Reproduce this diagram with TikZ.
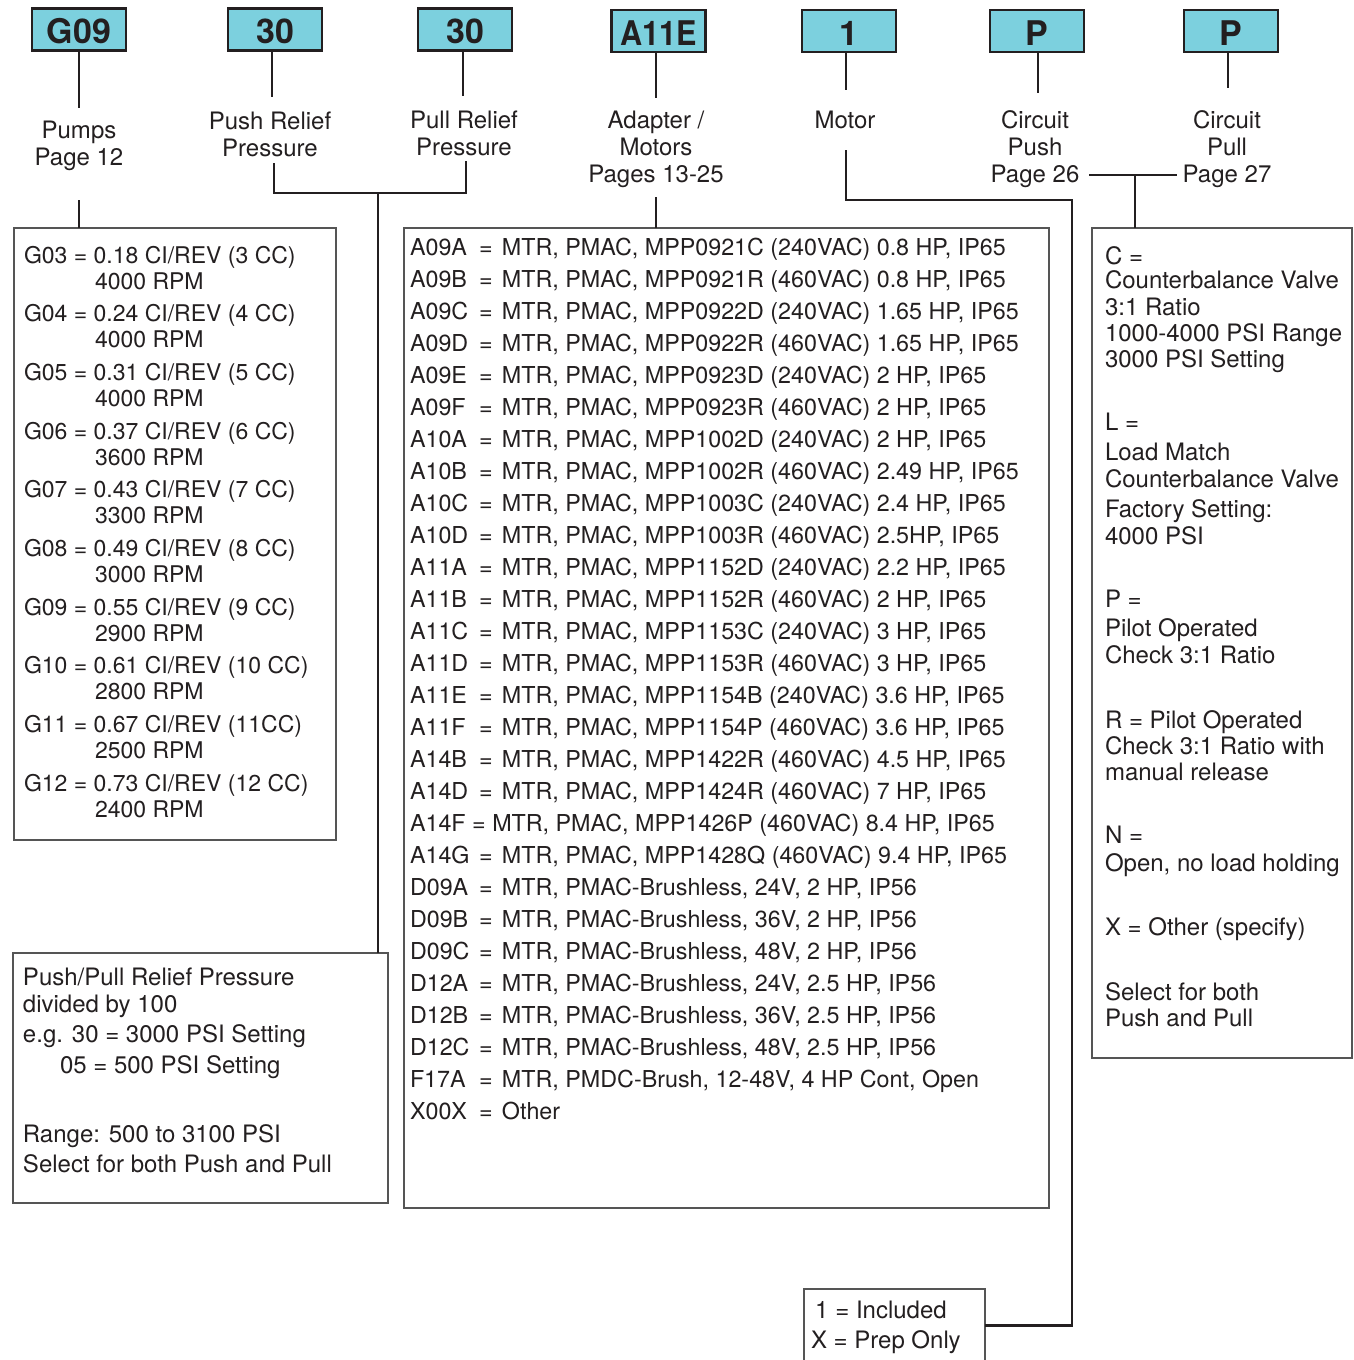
\documentclass[tikz,border=0pt]{standalone}
\usepackage{fontspec}
\setmainfont{TeX Gyre Heros}
\usepackage{graphicx}
\definecolor{ink}{HTML}{231F20}
\definecolor{cyanbox}{RGB}{124,208,222}
\definecolor{frame}{HTML}{555555}
\newcommand{\mystrut}{\rule{0pt}{20pt}}
\newcommand{\mrow}[2]{\makebox[60pt][l]{#1}\makebox[32pt]{=}#2}
\begin{document}
\begin{tikzpicture}[x=1pt,y=-1pt,
  every node/.style={inner sep=0pt, outer sep=0pt, text=ink},
  codebox/.style={draw=ink, line width=2.6pt, fill=cyanbox, minimum width=94pt, minimum height=42pt, text height=28.5pt, text depth=0pt, font=\fontsize{34}{34}\selectfont\bfseries},
  bigbox/.style={draw=frame, line width=1.4pt},
  conn/.style={draw=ink, line width=2.6pt},
  toplabel/.style={anchor=north, align=center, font=\fontsize{24}{27}\selectfont},
  boxtext/.style={anchor=north west, align=left}
]
\useasboundingbox (0,0) rectangle (1354,1360);

% code boxes
\node[codebox] (bG)  at (79,29.5) {G09};
\node[codebox] (bPu) at (275,29.5) {30};
\node[codebox] (bPl) at (465,29.5) {30};
\node[codebox] (bA)  at (658.5,31) {\scalebox{0.9}[1]{A11E}};
\node[codebox] (bM)  at (849,31) {1};
\node[codebox] (bCP) at (1037,31) {P};
\node[codebox] (bCL) at (1231,31) {P};

% labels
\node[toplabel] (lG)  at (79,118)   {\mystrut Pumps\\Page 12};
\node[toplabel] (lPu) at (270,109)  {\mystrut Push Relief\\Pressure};
\node[toplabel] (lPl) at (464,108)  {\mystrut Pull Relief\\Pressure};
\node[toplabel] (lA)  at (656,108)  {\mystrut Adapter /\\Motors\\Pages 13-25};
\node[toplabel] (lM)  at (845,108)  {\mystrut Motor};
\node[toplabel] (lCP) at (1035,108) {\mystrut Circuit\\Push\\Page 26};
\node[toplabel] (lCL) at (1227,108) {\mystrut Circuit\\Pull\\Page 27};

% big boxes
\node[bigbox, minimum width=322pt, minimum height=612pt] (pumpsbox) at (175,534) {};
\node[bigbox, minimum width=645pt, minimum height=980pt] (midbox) at (726.5,718) {};
\node[bigbox, minimum width=260pt, minimum height=830pt] (rbox) at (1222,643) {};
\node[bigbox, minimum width=375pt, minimum height=250pt] (ppbox) at (200.5,1078) {};
\node[bigbox, minimum width=181pt, minimum height=73pt] (motorbox) at (894.5,1325.5) {};

% pumps box text
\node[boxtext, font=\fontsize{23}{26}\selectfont] (tPumps) at (24,243) {\mystrut
G03 = 0.18 CI/REV (3 CC)\\ \hspace*{71pt}4000 RPM\\[6.67pt]
G04 = 0.24 CI/REV (4 CC)\\ \hspace*{71pt}4000 RPM\\[6.67pt]
G05 = 0.31 CI/REV (5 CC)\\ \hspace*{71pt}4000 RPM\\[6.67pt]
G06 = 0.37 CI/REV (6 CC)\\ \hspace*{71pt}3600 RPM\\[6.67pt]
G07 = 0.43 CI/REV (7 CC)\\ \hspace*{71pt}3300 RPM\\[6.67pt]
G08 = 0.49 CI/REV (8 CC)\\ \hspace*{71pt}3000 RPM\\[6.67pt]
G09 = 0.55 CI/REV (9 CC)\\ \hspace*{71pt}2900 RPM\\[6.67pt]
G10 = 0.61 CI/REV (10 CC)\\ \hspace*{71pt}2800 RPM\\[6.67pt]
G11 = 0.67 CI/REV (11CC)\\ \hspace*{71pt}2500 RPM\\[6.67pt]
G12 = 0.73 CI/REV (12 CC)\\ \hspace*{71pt}2400 RPM};

% motors box text
\node[boxtext, font=\fontsize{23.3}{32}\selectfont] (tMid) at (410,235) {\mystrut
\mrow{A09A}{MTR, PMAC, MPP0921C (240VAC) 0.8 HP, IP65}\\
\mrow{A09B}{MTR, PMAC, MPP0921R (460VAC) 0.8 HP, IP65}\\
\mrow{A09C}{MTR, PMAC, MPP0922D (240VAC) 1.65 HP, IP65}\\
\mrow{A09D}{MTR, PMAC, MPP0922R (460VAC) 1.65 HP, IP65}\\
\mrow{A09E}{MTR, PMAC, MPP0923D (240VAC) 2 HP, IP65}\\
\mrow{A09F}{MTR, PMAC, MPP0923R (460VAC) 2 HP, IP65}\\
\mrow{A10A}{MTR, PMAC, MPP1002D (240VAC) 2 HP, IP65}\\
\mrow{A10B}{MTR, PMAC, MPP1002R (460VAC) 2.49 HP, IP65}\\
\mrow{A10C}{MTR, PMAC, MPP1003C (240VAC) 2.4 HP, IP65}\\
\mrow{A10D}{MTR, PMAC, MPP1003R (460VAC) 2.5HP, IP65}\\
\mrow{A11A}{MTR, PMAC, MPP1152D (240VAC) 2.2 HP, IP65}\\
\mrow{A11B}{MTR, PMAC, MPP1152R (460VAC) 2 HP, IP65}\\
\mrow{A11C}{MTR, PMAC, MPP1153C (240VAC) 3 HP, IP65}\\
\mrow{A11D}{MTR, PMAC, MPP1153R (460VAC) 3 HP, IP65}\\
\mrow{A11E}{MTR, PMAC, MPP1154B (240VAC) 3.6 HP, IP65}\\
\mrow{A11F}{MTR, PMAC, MPP1154P (460VAC) 3.6 HP, IP65}\\
\mrow{A14B}{MTR, PMAC, MPP1422R (460VAC) 4.5 HP, IP65}\\
\mrow{A14D}{MTR, PMAC, MPP1424R (460VAC) 7 HP, IP65}\\
A14F = MTR, PMAC, MPP1426P (460VAC) 8.4 HP, IP65\\
\mrow{A14G}{MTR, PMAC, MPP1428Q (460VAC) 9.4 HP, IP65}\\
\mrow{D09A}{MTR, PMAC-Brushless, 24V, 2 HP, IP56}\\
\mrow{D09B}{MTR, PMAC-Brushless, 36V, 2 HP, IP56}\\
\mrow{D09C}{MTR, PMAC-Brushless, 48V, 2 HP, IP56}\\
\mrow{D12A}{MTR, PMAC-Brushless, 24V, 2.5 HP, IP56}\\
\mrow{D12B}{MTR, PMAC-Brushless, 36V, 2.5 HP, IP56}\\
\mrow{D12C}{MTR, PMAC-Brushless, 48V, 2.5 HP, IP56}\\
\mrow{F17A}{MTR, PMDC-Brush, 12-48V, 4 HP Cont, Open}\\
\mrow{X00X}{Other}};

% circuit box text
\begin{scope}[every node/.append style={boxtext, font=\fontsize{24}{27}\selectfont}]
\node (r1) at (1105,244) {\mystrut C =\\[-3pt]Counterbalance Valve\\3:1 Ratio\\[-1pt]1000-4000 PSI Range\\[-1pt]3000 PSI Setting};
\node (r2) at (1105,410) {\mystrut L =\\[3pt]Load Match\\Counterbalance Valve\\[3pt]Factory Setting:\\4000 PSI};
\node (r3) at (1105,587) {\mystrut P =\\[2pt]Pilot Operated\\Check 3:1 Ratio};
\node (r4) at (1105,708) {\mystrut R = Pilot Operated\\[-1pt]Check 3:1 Ratio with\\[-1pt]manual release};
\node (r5) at (1105,823) {\mystrut N =\\[1pt]Open, no load holding};
\node (r6) at (1105,915) {\mystrut X = Other (specify)};
\node (r7) at (1105,980) {\mystrut Select for both\\[-1pt]Push and Pull};
\end{scope}

% push/pull box text
\node[boxtext, font=\fontsize{24}{30}\selectfont] (tPP) at (23,965) {\mystrut Push/Pull Relief Pressure\\[-3pt]
divided by 100\\
e.g. 30 = 3000 PSI Setting\\[1pt]
\hspace*{37pt}05 = 500 PSI Setting\\[39pt]
Range: 500 to 3100 PSI\\
Select for both Push and Pull};

% motor box text
\node[boxtext, font=\fontsize{24}{30}\selectfont] (tMot) at (811,1298) {\mystrut\hspace*{4pt}1\hspace{7pt}= Included\\X = Prep Only};

% connector coordinates
\coordinate (cG1) at (79,108);   \coordinate (cG2) at (79,200);
\coordinate (cPu1) at (272,97);  \coordinate (cPl1) at (463,96);
\coordinate (cPu2) at (274,163); \coordinate (cPl2) at (466,161);
\coordinate (cBr) at (378,193);
\coordinate (cA1) at (656,98);   \coordinate (cA2) at (656,197);
\coordinate (cM1) at (846,90);   \coordinate (cM2) at (846,150);
\coordinate (cM3) at (1072,200);
\coordinate (cP1) at (1038,93);  \coordinate (cL1) at (1228,88);
\coordinate (cCa) at (1089,175); \coordinate (cCb) at (1177,175);
\coordinate (cCm) at (1135,175);

% connectors
\draw[conn] (bG.south -| cG1) -- (cG1);
\draw[conn] (cG2) -- (cG2 |- pumpsbox.north);
\draw[conn] (bPu.south -| cPu1) -- (cPu1);
\draw[conn] (bPl.south -| cPl1) -- (cPl1);
\draw[conn] (cPu2) |- (cBr) -| (cPl2);
\draw[conn] (cBr) -- (cBr |- ppbox.north);
\draw[conn] (bA.south -| cA1) -- (cA1);
\draw[conn] (cA2) -- (cA2 |- midbox.north);
\draw[conn] (bM.south -| cM1) -- (cM1);
\draw[conn] (cM2) |- (cM3) |- (motorbox.east);
\draw[conn] (bCP.south -| cP1) -- (cP1);
\draw[conn] (bCL.south -| cL1) -- (cL1);
\draw[conn] (cCa) -- (cCb);
\draw[conn] (cCm) -- (cCm |- rbox.north);
\end{tikzpicture}
\end{document}
